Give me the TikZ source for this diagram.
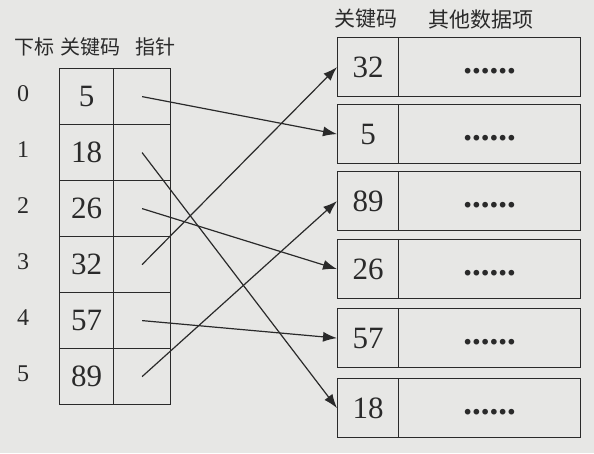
\documentclass[tikz,border=0pt]{standalone}
\usepackage{fontspec}
\setmainfont{Liberation Serif}
\newfontfamily\cjk{Noto Sans CJK SC}
\usetikzlibrary{arrows.meta}
\definecolor{paper}{RGB}{231,231,229}
\definecolor{ink}{RGB}{42,42,42}
\begin{document}
\begin{tikzpicture}[x=1pt,y=-1pt,
  cellbox/.style={draw=ink, line width=1.2pt, inner sep=0pt, anchor=north west,
    minimum height=56pt, text=ink, font=\fontsize{31}{31}\selectfont},
  keycol/.style={cellbox, minimum width=54pt},
  ptrcol/.style={cellbox, minimum width=57pt},
  rkey/.style={cellbox, minimum height=59pt, minimum width=61pt},
  rdata/.style={cellbox, minimum height=59pt, minimum width=182pt},
  idx/.style={text=ink, font=\fontsize{24}{24}\selectfont},
  head/.style={text=ink, font=\cjk\fontsize{20}{20}\selectfont},
  rhead/.style={text=ink, font=\cjk\fontsize{21}{21}\selectfont},
  dots/.style={text=ink, anchor=base, font=\bfseries\fontsize{35}{35}\selectfont},
  arr/.style={draw=ink, line width=1.2pt, -{Latex[length=14pt,width=10pt]}}
]
\useasboundingbox[fill=paper] (0,0) rectangle (594,453);

% headers
\node[head] (hidx) at (34,47) {下标};
\node[head] (hkey) at (90,47) {关键码};
\node[head] (hptr) at (155,47) {指针};
\node[rhead] (rhkey) at (366,19) {关键码};
\node[rhead] (rhdat) at (481,20) {其他数据项};

% left table
\foreach \i/\v in {0/5,1/18,2/26,3/32,4/57,5/89}{
  \node[keycol] (k\i) at (59,{68+56*\i}) {\v};
  \node[ptrcol] (p\i) at (113,{68+56*\i}) {};
  \node[idx] (i\i) at (23,{94+56*\i}) {\i};
}

% right table
\foreach \v/\t in {32/37,5/104,89/171,26/239,57/308,18/378}{
  \node[rkey] (rk\v) at (337,\t) {\v};
  \node[rdata] (rd\v) at (398,\t) {};
  \node[dots] (dt\v) at ([yshift=-6pt]rd\v.center) {......};
}

% pointers
\draw[arr] (p0.center) -- (rk5.west);
\draw[arr] (p1.center) -- (rk18.west);
\draw[arr] (p2.center) -- (rk26.west);
\draw[arr] (p3.center) -- (rk32.west);
\draw[arr] (p4.center) -- (rk57.west);
\draw[arr] (p5.center) -- (rk89.west);
\end{tikzpicture}
\end{document}
